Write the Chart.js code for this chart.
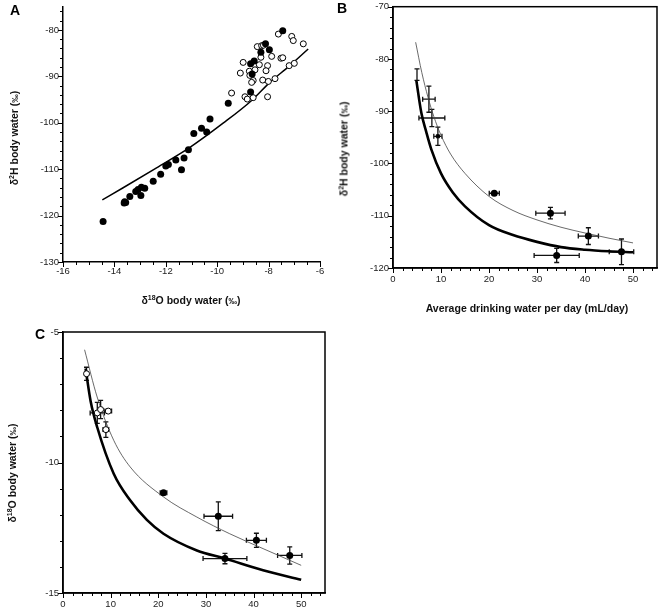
<!DOCTYPE html>
<html>
<head>
<meta charset="utf-8">
<script src="https://cdn.jsdelivr.net/npm/chart.js@4.4.1/dist/chart.umd.min.js"></script>
<style>
  body { margin: 0; background: #fff; width: 662px; height: 609px; position: relative; overflow: hidden; font-family: "Liberation Sans", Arial, sans-serif; }
  canvas { position: absolute; }
  .lbl { position: absolute; font-weight: bold; font-size: 14px; line-height: 14px; color: #000; }
  .ttl { position: absolute; font-weight: bold; font-size: 10.5px; line-height: 12px; color: #111; white-space: nowrap; transform: translate(-50%, -50%); }
  .ttl.rot { transform: translate(-50%, -50%) rotate(-90deg); }
  .ttl sup { font-size: 7px; vertical-align: 4px; line-height: 0; }
  .ttl small { font-size: 8.5px; }
</style>
</head>
<body>
<canvas id="chartA" width="330" height="305" style="left:0;top:0"></canvas>
<canvas id="chartB" width="332" height="300" style="left:330px;top:0"></canvas>
<canvas id="chartC" width="330" height="304" style="left:0;top:305px"></canvas>
<div class="lbl" style="left:10px;top:3px">A</div>
<div class="lbl" style="left:337px;top:1px">B</div>
<div class="lbl" style="left:35px;top:327px">C</div>
<div class="ttl rot" style="left:14px;top:138px">δ<sup>2</sup>H body water (<small>‰</small>)</div>
<div class="ttl" style="left:191px;top:300px">δ<sup>18</sup>O body water (<small>‰</small>)</div>
<div class="ttl rot" style="left:343.5px;top:149px">δ<sup>2</sup>H body water (<small>‰</small>)</div>
<div class="ttl" style="left:527px;top:308px">Average drinking water per day (mL/day)</div>
<div class="ttl rot" style="left:11.5px;top:473px">δ<sup>18</sup>O body water (<small>‰</small>)</div>
<script>
'use strict';

const FONT = '"Liberation Sans", Arial, sans-serif';

// ***** PANEL A DATA *****
const aFilledX = [-14.44, -13.62, -13.56, -13.6, -13.4, -13.17, -13.08, -12.95, -12.82, -12.97, -12.49, -12.2, -12.0, -11.9, -11.61, -11.39, -11.29, -11.12, -10.91, -10.61, -10.41, -10.28, -9.57, -8.7, -8.7, -8.56, -8.64, -8.3, -8.12, -7.97, -7.45];
const aFilledY = [-121.25, -117.3, -117.2, -117.0, -115.9, -114.8, -114.4, -113.9, -114.1, -115.7, -112.6, -111.1, -109.3, -109.0, -108.0, -110.1, -107.6, -105.8, -102.3, -101.2, -102.0, -99.2, -95.8, -93.4, -87.3, -86.7, -89.5, -84.8, -83.0, -84.3, -80.2];
const aOpenX = [-7.62, -7.1, -7.04, -6.65, -8.44, -8.27, -8.2, -8.3, -7.88, -7.52, -7.45, -8.99, -8.36, -8.04, -8.75, -8.53, -8.1, -9.1, -8.73, -7.2, -7.0, -8.6, -8.23, -8.01, -7.75, -8.66, -9.44, -8.92, -8.83, -8.6, -8.04];
const aOpenY = [-80.9, -81.4, -82.3, -83.0, -83.6, -83.4, -83.3, -85.9, -85.7, -86.1, -86.0, -87.0, -87.5, -87.7, -88.9, -88.6, -88.8, -89.3, -89.8, -87.7, -87.2, -90.9, -90.8, -91.1, -90.5, -91.3, -93.6, -94.4, -94.9, -94.6, -94.4];
const aFitX = [-14.47, -13.66, -12.36, -11.06, -9.77, -8.66, -7.95, -7.2, -6.46];
const aFitY = [-116.6, -114.0, -109.7, -105.3, -100.1, -95.2, -91.3, -87.8, -84.1];
const aXTicks = [-16, -14, -12, -10, -8, -6];
const aYTicks = [-130, -120, -110, -100, -90, -80];

// ***** PANEL B DATA *****
const bCrossX = [5.0, 7.48, 8.1, 9.35];
const bCrossY = [-83.0, -87.7, -91.3, -94.8];
const bCrossXErr = [0, 1.3, 2.7, 0.85];
const bCrossYErr = [1.1, 2.5, 1.65, 1.75];
const bFilledX = [21.1, 32.8, 40.7, 34.1, 47.6];
const bFilledY = [-105.7, -109.5, -113.9, -117.6, -116.9];
const bFilledXErr = [1.05, 3.05, 2.1, 4.7, 2.55];
const bFilledYErr = [0, 1.1, 1.6, 1.35, 2.45];
const bThickX = [4.86, 5.9, 6.94, 7.98, 10, 12.5, 15, 20, 25, 30, 35, 40, 45, 50];
const bThickY = [-84.1, -90.3, -94.0, -97.3, -101.9, -105.6, -108.2, -111.8, -113.7, -115.0, -116.0, -116.5, -116.8, -117.0];
const bThinX = [4.72, 6, 7.28, 8.5, 10, 12, 15, 20, 25, 30, 35, 40, 45, 50];
const bThinY = [-76.8, -82.6, -87.3, -91.0, -94.6, -98.2, -101.9, -106.3, -109.0, -110.8, -112.2, -113.3, -114.3, -115.2];
const bXTicks = [0, 10, 20, 30, 40, 50];
const bYTicks = [-120, -110, -100, -90, -80, -70];

// ***** PANEL C DATA *****
const cOpenX = [4.94, 7.2, 7.9, 9.5, 9.0];
const cOpenY = [-6.6, -8.1, -7.97, -8.03, -8.74];
const cOpenXErr = [0, 1.5, 0, 0.7, 0.6];
const cOpenYErr = [0.25, 0.4, 0.35, 0, 0.3];
const cFilledX = [21.1, 32.6, 40.6, 34.0, 47.6];
const cFilledY = [-11.16, -12.06, -12.98, -13.68, -13.56];
const cFilledXErr = [0.7, 3.0, 2.1, 4.6, 2.55];
const cFilledYErr = [0, 0.55, 0.27, 0.2, 0.33];
const cThickX = [4.74, 5.8, 7.17, 10.65, 14.1, 17.6, 21.1, 28.1, 34.0, 42.0, 50.0];
const cThickY = [-6.4, -7.65, -8.64, -10.43, -11.45, -12.2, -12.73, -13.37, -13.68, -14.13, -14.49];
const cThinX = [4.53, 7.17, 10.65, 14.1, 21.1, 28.1, 35.0, 42.0, 50.0];
const cThinY = [-5.68, -7.49, -9.15, -10.17, -11.32, -12.09, -12.73, -13.3, -13.94];
const cXTicks = [0, 10, 20, 30, 40, 50];
const cYTicks = [-15, -10, -5];

// **** HELPERS ****
function pts(xs, ys) {
  return xs.map((x, i) => ({ x: x, y: ys[i] }));
}

function scaleOpts(min, max, majors, size, isX, labelPad) {
  return {
    type: 'linear',
    position: isX ? 'bottom' : 'left',
    min: min,
    max: max,
    afterBuildTicks: s => { s.ticks = majors.map(v => ({ value: v })); },
    afterFit: s => { if (isX) { s.height = size; } else { s.width = size; } },
    grid: { display: false, drawTicks: true, tickLength: 3 },
    border: { display: true, color: '#000', width: 1.5 },
    ticks: { color: '#222', font: { size: 9.5, family: FONT }, padding: labelPad, autoSkip: false, maxRotation: 0 },
    title: { display: false }
  };
}

// draws major + minor tick marks and an optional frame
const tickPlugin = {
  id: 'axisTicks',
  afterDraw(chart, args, opts) {
    const ctx = chart.ctx;
    const area = chart.chartArea;
    ctx.save();
    ctx.strokeStyle = '#000';
    ctx.lineWidth = 1;
    ['x', 'y'].forEach(id => {
      const s = chart.scales[id];
      const step = opts[id + 'Step'];
      const majors = opts[id + 'Major'];
      const n = Math.floor((s.max - s.min) / step + 1e-6);
      for (let i = 0; i <= n; i++) {
        const v = s.min + i * step;
        const isMajor = majors.some(m => Math.abs(m - v) < 1e-6);
        const len = isMajor ? 5 : 3;
        const p = Math.round(s.getPixelForValue(v)) + 0.5;
        ctx.beginPath();
        if (id === 'x') {
          ctx.moveTo(p, area.bottom);
          ctx.lineTo(p, area.bottom + len);
        } else {
          ctx.moveTo(area.left - len, p);
          ctx.lineTo(area.left, p);
        }
        ctx.stroke();
      }
    });
    if (opts.frame) {
      ctx.lineWidth = 1.5;
      ctx.strokeRect(area.left, area.top, area.right - area.left, area.bottom - area.top);
    }
    ctx.restore();
  }
};

// error bars drawn under the markers
const errorBarPlugin = {
  id: 'errorBars',
  beforeDatasetsDraw(chart) {
    const ctx = chart.ctx;
    const xs = chart.scales.x;
    const ys = chart.scales.y;
    const cap = 2.5;
    ctx.save();
    ctx.strokeStyle = '#111';
    ctx.lineWidth = 1.3;
    chart.data.datasets.forEach(ds => {
      if (!ds.errX && !ds.errY) return;
      ds.data.forEach((p, i) => {
        const px = xs.getPixelForValue(p.x);
        const py = ys.getPixelForValue(p.y);
        const ex = ds.errX ? ds.errX[i] : 0;
        const ey = ds.errY ? ds.errY[i] : 0;
        ctx.beginPath();
        if (ex > 0) {
          const x1 = xs.getPixelForValue(p.x - ex);
          const x2 = xs.getPixelForValue(p.x + ex);
          ctx.moveTo(x1, py); ctx.lineTo(x2, py);
          ctx.moveTo(x1, py - cap); ctx.lineTo(x1, py + cap);
          ctx.moveTo(x2, py - cap); ctx.lineTo(x2, py + cap);
        }
        if (ey > 0) {
          const y1 = ys.getPixelForValue(p.y - ey);
          const y2 = ys.getPixelForValue(p.y + ey);
          ctx.moveTo(px, y1); ctx.lineTo(px, y2);
          ctx.moveTo(px - cap, y1); ctx.lineTo(px + cap, y1);
          ctx.moveTo(px - cap, y2); ctx.lineTo(px + cap, y2);
        }
        ctx.stroke();
      });
    });
    ctx.restore();
  }
};

function baseOptions(padding, scales, ticksCfg) {
  return {
    responsive: false,
    animation: false,
    events: [],
    layout: { padding: padding },
    scales: scales,
    plugins: {
      legend: { display: false },
      tooltip: { enabled: false },
      axisTicks: ticksCfg
    }
  };
}

function filledSet(data, errX, errY) {
  return { data: data, errX: errX, errY: errY, pointRadius: 3.5, pointBackgroundColor: '#000', pointBorderColor: '#000', pointBorderWidth: 0, showLine: false };
}
function openSet(data, errX, errY) {
  return { data: data, errX: errX, errY: errY, pointRadius: 3, pointBackgroundColor: '#fff', pointBorderColor: '#000', pointBorderWidth: 1, showLine: false };
}
function curveSet(data, width, color) {
  return { data: data, showLine: true, pointRadius: 0, borderColor: color, borderWidth: width, cubicInterpolationMode: 'monotone', fill: false };
}

// **** PANEL A ****
new Chart(document.getElementById('chartA'), {
  type: 'scatter',
  data: {
    datasets: [
      filledSet(pts(aFilledX, aFilledY)),
      openSet(pts(aOpenX, aOpenY)),
      curveSet(pts(aFitX, aFitY), 1.5, '#000')
    ]
  },
  options: baseOptions(
    { left: 0, top: 6, right: 10, bottom: 0 },
    {
      x: scaleOpts(-16, -6, aXTicks, 43, true, 1),
      y: scaleOpts(-130, -75, aYTicks, 63, false, 1)
    },
    { xStep: 0.5, yStep: 2, xMajor: aXTicks, yMajor: aYTicks, frame: false }
  ),
  plugins: [errorBarPlugin, tickPlugin]
});

// **** PANEL B ****
new Chart(document.getElementById('chartB'), {
  type: 'scatter',
  data: {
    datasets: [
      filledSet(pts(bFilledX, bFilledY), bFilledXErr, bFilledYErr),
      { data: pts(bCrossX, bCrossY), errX: bCrossXErr, errY: bCrossYErr, pointStyle: 'rect', pointRadius: [0, 0, 0, 2.2], pointBackgroundColor: '#000', pointBorderColor: '#000', showLine: false },
      curveSet(pts(bThickX, bThickY), 2.6, '#000'),
      curveSet(pts(bThinX, bThinY), 0.8, '#444')
    ]
  },
  options: baseOptions(
    { left: 0, top: 6, right: 4, bottom: 0 },
    {
      x: scaleOpts(0, 55, bXTicks, 32, true, 3),
      y: scaleOpts(-120, -70, bYTicks, 63, false, 1)
    },
    { xStep: 2, yStep: 2, xMajor: bXTicks, yMajor: bYTicks, frame: true }
  ),
  plugins: [errorBarPlugin, tickPlugin]
});

// **** PANEL C ****
new Chart(document.getElementById('chartC'), {
  type: 'scatter',
  data: {
    datasets: [
      filledSet(pts(cFilledX, cFilledY), cFilledXErr, cFilledYErr),
      openSet(pts(cOpenX, cOpenY), cOpenXErr, cOpenYErr),
      curveSet(pts(cThickX, cThickY), 2.6, '#000'),
      curveSet(pts(cThinX, cThinY), 0.8, '#444')
    ]
  },
  options: baseOptions(
    { left: 0, top: 27, right: 2, bottom: 0 },
    {
      x: scaleOpts(0, 55, cXTicks, 16, true, 3),
      y: scaleOpts(-15, -5, cYTicks, 63, false, 1)
    },
    { xStep: 2, yStep: 1, xMajor: cXTicks, yMajor: cYTicks, frame: true }
  ),
  plugins: [errorBarPlugin, tickPlugin]
});
</script>
</body>
</html>
